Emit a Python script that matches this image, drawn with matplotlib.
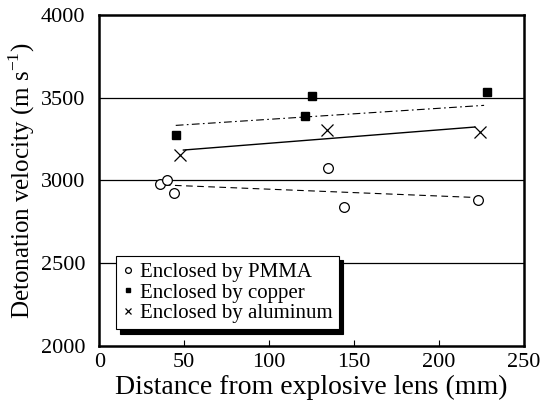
import matplotlib
matplotlib.use('Agg')
import matplotlib.pyplot as plt

plt.rcParams['font.family'] = ['Liberation Serif', 'DejaVu Serif']
plt.rcParams['mathtext.fontset'] = 'custom'
plt.rcParams['mathtext.rm'] = 'Liberation Serif'

# measured points (distance mm, velocity m/s)
pmma_x = [36.0, 40.0, 44.0, 134.5, 144.0, 223.0]
pmma_y = [2980, 3000, 2922, 3075, 2842, 2882]
copper_x = [45.0, 121.0, 125.0, 228.0]
copper_y = [3274, 3390, 3513, 3537]
alu_x = [47.5, 134.0, 224.0]
alu_y = [3152, 3305, 3291]

# trend lines (end points)
pmma_fit_x = [38.0, 220.0]
pmma_fit_y = [2973, 2898]
copper_fit_x = [45.0, 226.5]
copper_fit_y = [3333, 3454]
alu_fit_x = [49.5, 221.0]
alu_fit_y = [3184, 3323]

xticks = [0, 50, 100, 150, 200, 250]
yticks = [2000, 2500, 3000, 3500, 4000]

fig = plt.figure(figsize=(5.42, 4.12), dpi=100)
ax = fig.add_axes([0.1832, 0.1602, 0.7836, 0.8034])

for v in yticks[1:-1]:
    ax.axhline(v, color='black', lw=0.9, zorder=1)

ax.plot(pmma_fit_x, pmma_fit_y, color='black', lw=0.8, ls=(0, (6, 4)))
ax.plot(copper_fit_x, copper_fit_y, color='black', lw=0.8, ls=(0, (7, 3, 1.5, 3)))
ax.plot(alu_fit_x, alu_fit_y, color='black', lw=1.0, ls='-')

ax.plot(pmma_x, pmma_y, 'o', ms=7, mfc='white', mec='black', mew=0.9,
        ls='none', label='Enclosed by PMMA')
ax.plot(copper_x, copper_y, 's', ms=6, mfc='black', mec='black',
        ls='none', label='Enclosed by copper')
ax.plot(alu_x, alu_y, 'x', ms=8, mec='black', mew=0.9,
        ls='none', label='Enclosed by aluminum')

ax.set_xlim(0, 250)
ax.set_ylim(2000, 4000)
ax.set_xticks(xticks)
ax.set_yticks(yticks)
ax.tick_params(axis='x', direction='in', length=4, width=0.8, labelsize=16, pad=5)
ax.tick_params(axis='y', length=0, labelsize=16, pad=10)
for s in ax.spines.values():
    s.set_linewidth(1.8)

ax.set_xlabel('Distance from explosive lens (mm)', fontsize=20, labelpad=2)
ax.set_ylabel('Detonation velocity (m s$^{\\mathrm{-1}}$)', fontsize=18, labelpad=3)

leg = ax.legend(loc='lower left', bbox_to_anchor=(0.040, 0.05), fontsize=15,
                frameon=True, fancybox=False, edgecolor='black', markerscale=0.6,
                handlelength=0.5, handletextpad=0.35, borderpad=0.3,
                labelspacing=0.05, borderaxespad=0,
                shadow={'color': 'black', 'alpha': 1.0, 'ox': 3, 'oy': -3})
leg.get_frame().set_linewidth(0.8)

fig.savefig('out.png', dpi=100)
